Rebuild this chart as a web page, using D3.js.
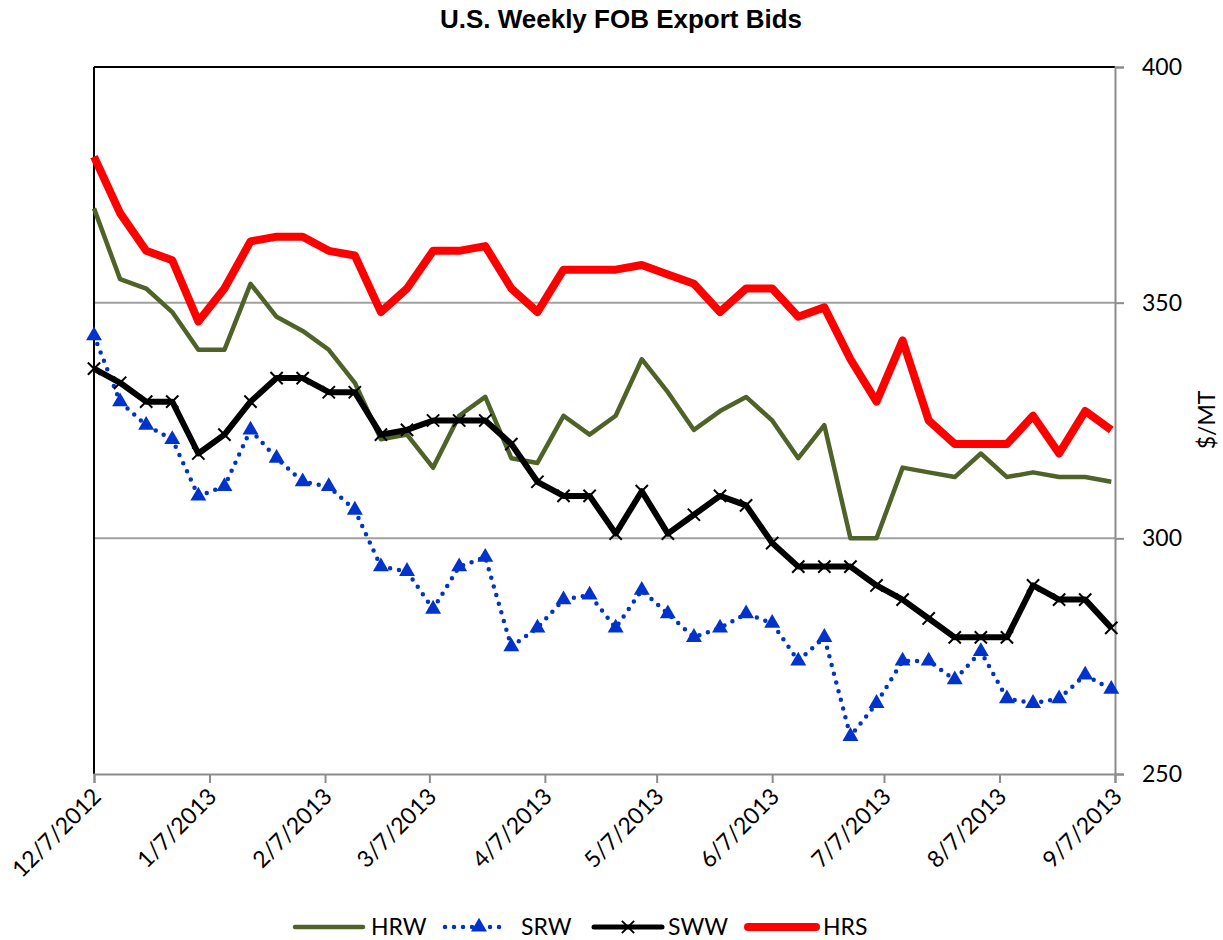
<!DOCTYPE html>
<html>
<head>
<meta charset="utf-8">
<script src="https://cdn.jsdelivr.net/npm/d3@7"></script>
<style>
  body { margin: 0; background: #fff; }
  text { font-family: Lato, "Open Sans", sans-serif; }
</style>
</head>
<body>
<div id="chart"></div>
<script>
// weekly dates
var dates = ["12/7/2012","12/14/2012","12/21/2012","12/28/2012","1/4/2013","1/11/2013","1/18/2013","1/25/2013",
  "2/1/2013","2/8/2013","2/15/2013","2/22/2013","3/1/2013","3/8/2013","3/15/2013","3/22/2013","3/29/2013",
  "4/5/2013","4/12/2013","4/19/2013","4/26/2013","5/3/2013","5/10/2013","5/17/2013","5/24/2013","5/31/2013",
  "6/7/2013","6/14/2013","6/21/2013","6/28/2013","7/5/2013","7/12/2013","7/19/2013","7/26/2013",
  "8/2/2013","8/9/2013","8/16/2013","8/23/2013","8/30/2013","9/6/2013"];

var hrw = [370,355,353,348,340,340,354,347,344,340,333,321,322,315,326,330,317,316,326,322,
  326,338,331,323,327,330,325,317,324,300,300,315,314,313,318,313,314,313,313,312];
var srw = [343,329,324,321,309,311,323,317,312,311,306,294,293,285,294,296,277,281,287,288,
  281,289,284,279,281,284,282,274,279,258,265,274,274,270,276,266,265,266,271,268];
var sww = [336,333,329,329,318,322,329,334,334,331,331,322,323,325,325,325,320,312,309,309,
  301,310,301,305,309,307,299,294,294,294,290,287,283,279,279,279,290,287,287,281];
var hrs = [381,369,361,359,346,353,363,364,364,361,360,348,353,361,361,362,353,348,357,357,
  357,358,356,354,348,353,353,347,349,338,329,342,325,320,320,320,326,318,327,323];

var xTicks = ["12/7/2012","1/7/2013","2/7/2013","3/7/2013","4/7/2013","5/7/2013",
  "6/7/2013","7/7/2013","8/7/2013","9/7/2013"];
var yTicks = [250, 300, 350, 400];

var seriesNames = ["HRW", "SRW", "SWW", "HRS"];

var parse = d3.timeParse("%m/%d/%Y");
var fmt = d3.timeFormat("%-m/%-d/%Y");

var margin = {top: 67, right: 108, bottom: 166, left: 94};
var W = 1223, H = 940;
var width = W - margin.left - margin.right,
    height = H - margin.top - margin.bottom;

var svg = d3.select("#chart").append("svg")
  .attr("width", W)
  .attr("height", H);

var g = svg.append("g")
  .attr("transform", "translate(" + margin.left + "," + margin.top + ")");

var x = d3.scaleTime()
  .domain([parse(xTicks[0]), parse(xTicks[xTicks.length - 1])])
  .range([0, width]);

var y = d3.scaleLinear()
  .domain([250, 400])
  .range([height, 0]);

// title
svg.append("text")
  .attr("x", 621)
  .attr("y", 28)
  .attr("text-anchor", "middle")
  .style("font-family", "'Liberation Sans', Arial, sans-serif")
  .style("font-weight", "bold")
  .style("font-size", "26px")
  .text("U.S. Weekly FOB Export Bids");

// gridlines
g.selectAll(".grid")
  .data([300, 350])
  .enter().append("line")
  .attr("x1", 0).attr("x2", width)
  .attr("y1", function(d) { return y(d); })
  .attr("y2", function(d) { return y(d); })
  .attr("stroke", "#a0a0a0")
  .attr("stroke-width", 2);

// plot border top / left
g.append("line").attr("x1", 0).attr("x2", width).attr("y1", 0).attr("y2", 0)
  .attr("stroke", "#000").attr("stroke-width", 2);
g.append("line").attr("x1", 0).attr("x2", 0).attr("y1", 0).attr("y2", height)
  .attr("stroke", "#000").attr("stroke-width", 2);

// right y axis
var yAxis = g.append("g")
  .attr("transform", "translate(" + width + ",0)")
  .call(d3.axisRight(y).tickValues(yTicks).tickSize(9).tickPadding(18));
yAxis.select(".domain").attr("stroke", "#8c8c8c").attr("stroke-width", 2);
yAxis.selectAll(".tick line").attr("stroke", "#8c8c8c").attr("stroke-width", 2);
yAxis.selectAll(".tick text")
  .style("font-size", "23px")
  .style("font-family", "Lato, sans-serif")
  .attr("fill", "#000");

// bottom x axis
var xAxis = g.append("g")
  .attr("transform", "translate(0," + height + ")")
  .call(d3.axisBottom(x).tickValues(xTicks.map(parse)).tickSize(9).tickFormat(fmt));
xAxis.select(".domain").attr("stroke", "#8c8c8c").attr("stroke-width", 2);
xAxis.selectAll(".tick line").attr("stroke", "#8c8c8c").attr("stroke-width", 2);
xAxis.selectAll(".tick text")
  .style("font-size", "23px")
  .style("font-family", "Lato, sans-serif")
  .attr("fill", "#000")
  .attr("text-anchor", "end")
  .attr("dy", null)
  .attr("y", 0)
  .attr("transform", "translate(8,24) rotate(-45)");

// axis title
svg.append("text")
  .attr("transform", "translate(1215,420) rotate(-90)")
  .attr("text-anchor", "middle")
  .style("font-size", "23px")
  .text("$/MT");

var line = d3.line()
  .x(function(d) { return x(d.date); })
  .y(function(d) { return y(d.v); });

function toPts(arr) {
  return arr.map(function(v, i) { return {date: parse(dates[i]), v: v}; });
}

// HRW
g.append("path")
  .datum(toPts(hrw))
  .attr("d", line)
  .attr("fill", "none")
  .attr("stroke", "#4f6228")
  .attr("stroke-width", 4.5)
  .attr("stroke-linejoin", "round");

// SRW - dotted with triangles
g.append("path")
  .datum(toPts(srw))
  .attr("d", line)
  .attr("fill", "none")
  .attr("stroke", "#0033cc")
  .attr("stroke-width", 4.5)
  .attr("stroke-linecap", "round")
  .attr("stroke-dasharray", "0 9");

var tri = d3.symbol().type(d3.symbolTriangle).size(110);
g.selectAll(".srwmark")
  .data(toPts(srw))
  .enter().append("path")
  .attr("class", "srwmark")
  .attr("d", tri)
  .attr("transform", function(d) { return "translate(" + x(d.date) + "," + y(d.v) + ")"; })
  .attr("fill", "#0033cc");

// SWW - black with x markers
g.append("path")
  .datum(toPts(sww))
  .attr("d", line)
  .attr("fill", "none")
  .attr("stroke", "#000")
  .attr("stroke-width", 6)
  .attr("stroke-linejoin", "round");

var cross = d3.symbol().type(d3.symbolX).size(100);
g.selectAll(".swwmark")
  .data(toPts(sww))
  .enter().append("path")
  .attr("class", "swwmark")
  .attr("d", cross)
  .attr("transform", function(d) { return "translate(" + x(d.date) + "," + y(d.v) + ")"; })
  .attr("fill", "none")
  .attr("stroke", "#000")
  .attr("stroke-width", 2);

// HRS
g.append("path")
  .datum(toPts(hrs))
  .attr("d", line)
  .attr("fill", "none")
  .attr("stroke", "#ff0000")
  .attr("stroke-width", 8)
  .attr("stroke-linejoin", "round");

// legend
var legX = [295, 445, 594, 748];
var legLen = 68;
var legend = svg.append("g");
var ly = 927;

legend.append("line").attr("x1", legX[0]).attr("x2", legX[0] + legLen).attr("y1", ly).attr("y2", ly)
  .attr("stroke", "#4f6228").attr("stroke-width", 4.5).attr("stroke-linecap", "round");

legend.append("line").attr("x1", legX[1]).attr("x2", legX[1] + 63).attr("y1", ly).attr("y2", ly)
  .attr("stroke", "#0033cc").attr("stroke-width", 4.5).attr("stroke-linecap", "round")
  .attr("stroke-dasharray", "0 9");
legend.append("path").attr("d", tri)
  .attr("transform", "translate(" + (legX[1] + 34) + "," + ly + ")")
  .attr("fill", "#0033cc");

legend.append("line").attr("x1", legX[2]).attr("x2", legX[2] + legLen).attr("y1", ly).attr("y2", ly)
  .attr("stroke", "#000").attr("stroke-width", 5).attr("stroke-linecap", "round");
legend.append("path").attr("d", cross)
  .attr("transform", "translate(" + (legX[2] + 34) + "," + ly + ")")
  .attr("fill", "none").attr("stroke", "#000").attr("stroke-width", 2);

legend.append("line").attr("x1", legX[3]).attr("x2", legX[3] + legLen).attr("y1", ly).attr("y2", ly)
  .attr("stroke", "#ff0000").attr("stroke-width", 8).attr("stroke-linecap", "round");

var labX = [371, 521, 668, 823];
legend.selectAll(".lab")
  .data(seriesNames)
  .enter().append("text")
  .attr("x", function(d, i) { return labX[i]; })
  .attr("y", ly + 8)
  .style("font-size", "23px")
  .text(function(d) { return d; });
</script>
</body>
</html>
